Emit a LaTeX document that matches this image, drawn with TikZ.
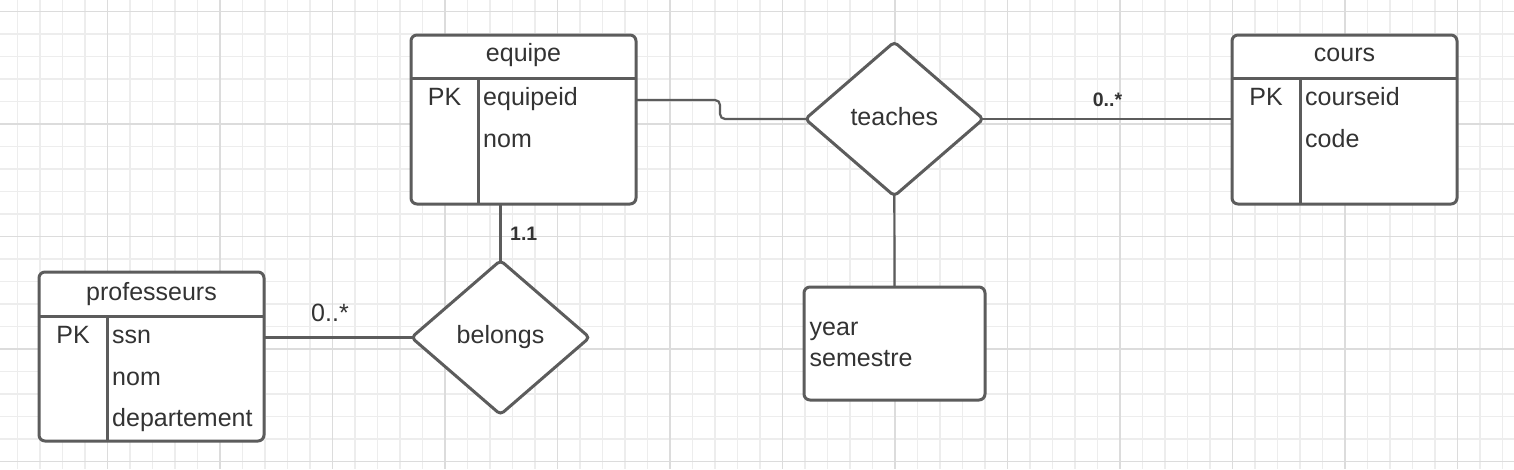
\documentclass[tikz,border=0pt]{standalone}
\usepackage{fontspec}
\setmainfont{Liberation Sans}
\usetikzlibrary{shapes.geometric}
\definecolor{lc}{HTML}{5C5C5C}
\definecolor{tc}{HTML}{333333}
\definecolor{gminor}{HTML}{EDEDED}
\definecolor{gmajor}{HTML}{DCDCDC}
\begin{document}
\begin{tikzpicture}[x=1pt,y=-1pt,
  ent/.style={draw=lc,line width=3pt,rounded corners=6pt,fill=white,rectangle,
    minimum width=225pt,minimum height=169pt,inner sep=0pt,outer sep=0pt},
  attrbox/.style={draw=lc,line width=3pt,rounded corners=6pt,fill=white,rectangle,
    minimum width=181pt,minimum height=113pt,inner sep=0pt,outer sep=0pt},
  rel/.style={draw=lc,line width=3pt,diamond,rounded corners=4pt,fill=white,
    minimum width=178pt,minimum height=154pt,inner sep=0pt,outer sep=0pt},
  sep/.style={draw=lc,line width=3pt},
  txt/.style={text=tc,inner sep=0pt,font=\fontsize{25}{30}\selectfont},
  conn/.style={draw=lc,line width=2.2pt},
  card/.style={text=tc,inner sep=0pt,font=\fontsize{19.5}{23}\selectfont\bfseries},
  gmin/.style={draw=gminor,line width=1.3pt},
  gmaj/.style={draw=gmajor,line width=1.5pt}
]
\useasboundingbox[fill=white] (0,0) rectangle (1514,469);
% grid
\foreach \k in {0,...,67} \draw[gmin] (17.5+22.5*\k,0) -- (17.5+22.5*\k,469);
\foreach \k in {0,...,20} \draw[gmin] (0,11.5+22.5*\k) -- (1514,11.5+22.5*\k);
\foreach \k in {0,...,12} \draw[gmaj] (107.5+112.5*\k,0) -- (107.5+112.5*\k,469);
\foreach \k in {0,...,4} \draw[gmaj] (0,11.5+112.5*\k) -- (1514,11.5+112.5*\k);

% equipe
\node[ent] (equipe) at (523.5,119.5) {};
\draw[sep] (411,78) -- (636,78);
\draw[sep] (478,78) -- (478,204);
\node[txt,anchor=base] (eqt) at (523.5,61) {equipe};
\node[txt,anchor=base] (eqpk) at (444.5,105) {PK};
\node[txt,anchor=base west] (eqa1) at (483,105) {equipeid};
\node[txt,anchor=base west] (eqa2) at (483,147) {nom};

% cours
\node[ent] (cours) at (1344.5,119.5) {};
\draw[sep] (1232,78) -- (1457,78);
\draw[sep] (1300,78) -- (1300,204);
\node[txt,anchor=base] (cot) at (1344.5,61) {cours};
\node[txt,anchor=base] (copk) at (1266,105) {PK};
\node[txt,anchor=base west] (coa1) at (1305,105) {courseid};
\node[txt,anchor=base west] (coa2) at (1305,147) {code};

% professeurs
\node[ent] (prof) at (151.5,356.5) {};
\draw[sep] (39,316.5) -- (264,316.5);
\draw[sep] (107.5,316.5) -- (107.5,441);
\node[txt,anchor=base] (prt) at (151.5,300) {professeurs};
\node[txt,anchor=base] (prpk) at (73,343) {PK};
\node[txt,anchor=base west] (pra1) at (112,343) {ssn};
\node[txt,anchor=base west] (pra2) at (112,385) {nom};
\node[txt,anchor=base west] (pra3) at (112,426) {departement};

% relationships
\node[rel] (teaches) at (894.3,119) {};
\node[txt,anchor=base] (teachest) at (894.3,125) {teaches};
\node[rel] (belongs) at (500.5,337.5) {};
\node[txt,anchor=base] (belongst) at (500.5,343) {belongs};

% attribute box
\node[attrbox] (attr) at (894.5,343.5) {};
\node[txt,anchor=base west] (at1) at (809.5,335.5) {year};
\node[txt,anchor=base west] (at2) at (809.5,366) {semestre};

% connectors
\coordinate (eqR) at (636,100);
\draw[conn,rounded corners=5pt,shorten >=-2pt] (eqR) -- (720,100) -- (720,119) -- (teaches.west);
\draw[conn,shorten <=-2pt] (teaches.east) -- (cours.west |- teaches.east);
\draw[conn,shorten <=-2pt] (teaches.south) -- (attr.north);
\draw[conn,shorten >=-2pt] (belongs.north |- equipe.south) -- (belongs.north);
\draw[conn,shorten >=-2pt] (prof.east |- belongs.west) -- (belongs.west);

% cardinalities
\node[card,anchor=base] (c1) at (1107.5,106.5) {0..*};
\node[card,anchor=base west] (c2) at (510,240) {1.1};
\node[txt,anchor=base] (c3) at (330,321.5) {0..*};
\end{tikzpicture}
\end{document}
